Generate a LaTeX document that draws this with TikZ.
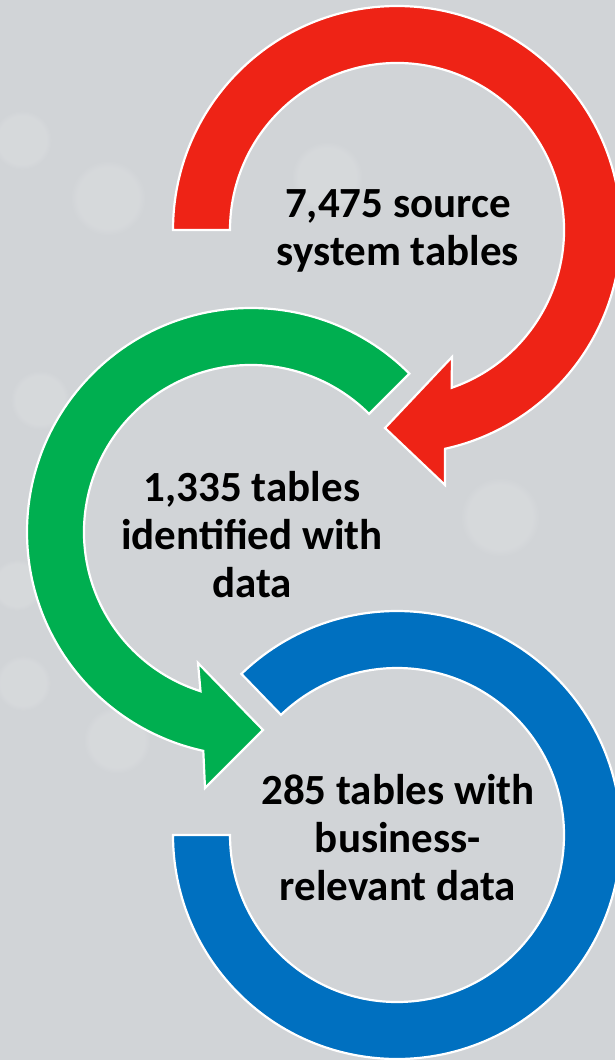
\documentclass[tikz,border=0pt]{standalone}
\usepackage{fontspec}
\newfontfamily\labelfont{Carlito}
\usetikzlibrary{calc,fadings}

\definecolor{bgc}{RGB}{209,212,215}
\definecolor{redc}{RGB}{238,35,22}
\definecolor{greenc}{RGB}{0,175,80}
\definecolor{bluec}{RGB}{0,112,192}

\tikzset{
  ringarrow/.style={draw=white, line width=2.2pt, line join=miter},
  steplabel/.style={align=center, text=black,
    font=\labelfont\bfseries\fontsize{43}{48}\selectfont},
  bokeh/.style={fill=white, opacity=0.12,
    path fading=circle with fuzzy edge 20 percent}
}

\begin{document}
\begin{tikzpicture}[x=1pt,y=-1pt]
  % page and backdrop
  \useasboundingbox (0,0) rectangle (615,1060);
  \clip (0,0) rectangle (615,1060);
  \fill[bgc] (0,0) rectangle (615,1060);

  % soft light spots in the backdrop
  \foreach \bx/\by/\br in {108/198/38, 327/177/36, 22/140/30, 500/517/40,
                          23/683/28, 117/740/34, 17/585/26, 40/400/30}
    \fill[bokeh] (\bx,\by) circle (\br);

  % ring centres
  \coordinate (rc) at (397,230);
  \coordinate (gc) at (251,532);
  \coordinate (bc) at (397,835);

  % red ring arrow: from the left end, clockwise over the top
  \fill[redc, ringarrow]
    ($(rc)+(180:224)$) arc[start angle=180, end angle=437.6, radius=224]
    -- (445,485) -- (385,428) -- (452,357)
    -- ($(rc)+(430.9:167)$) arc[start angle=430.9, end angle=180, radius=167]
    -- cycle;

  % green ring arrow: from the upper right, anticlockwise
  \fill[greenc, ringarrow]
    ($(gc)+(315:224)$) arc[start angle=315, end angle=102.3, radius=224]
    -- (205,788) -- (263,730) -- (198,663)
    -- ($(gc)+(107.6:167)$) arc[start angle=107.6, end angle=315, radius=167]
    -- cycle;

  % blue open ring
  \fill[bluec, ringarrow]
    ($(bc)+(226:224)$) arc[start angle=226, end angle=540, radius=224]
    -- ($(bc)+(540:167)$) arc[start angle=540, end angle=226, radius=167]
    -- cycle;

  % labels
  \node[steplabel] (source) at (398,231) {7,475 source\\system tables};
  \node[steplabel] (identified) at (252,535) {1,335 tables\\identified with\\data};
  \node[steplabel] (relevant) at (398,838) {285 tables with\\business-\\relevant data};
\end{tikzpicture}
\end{document}
